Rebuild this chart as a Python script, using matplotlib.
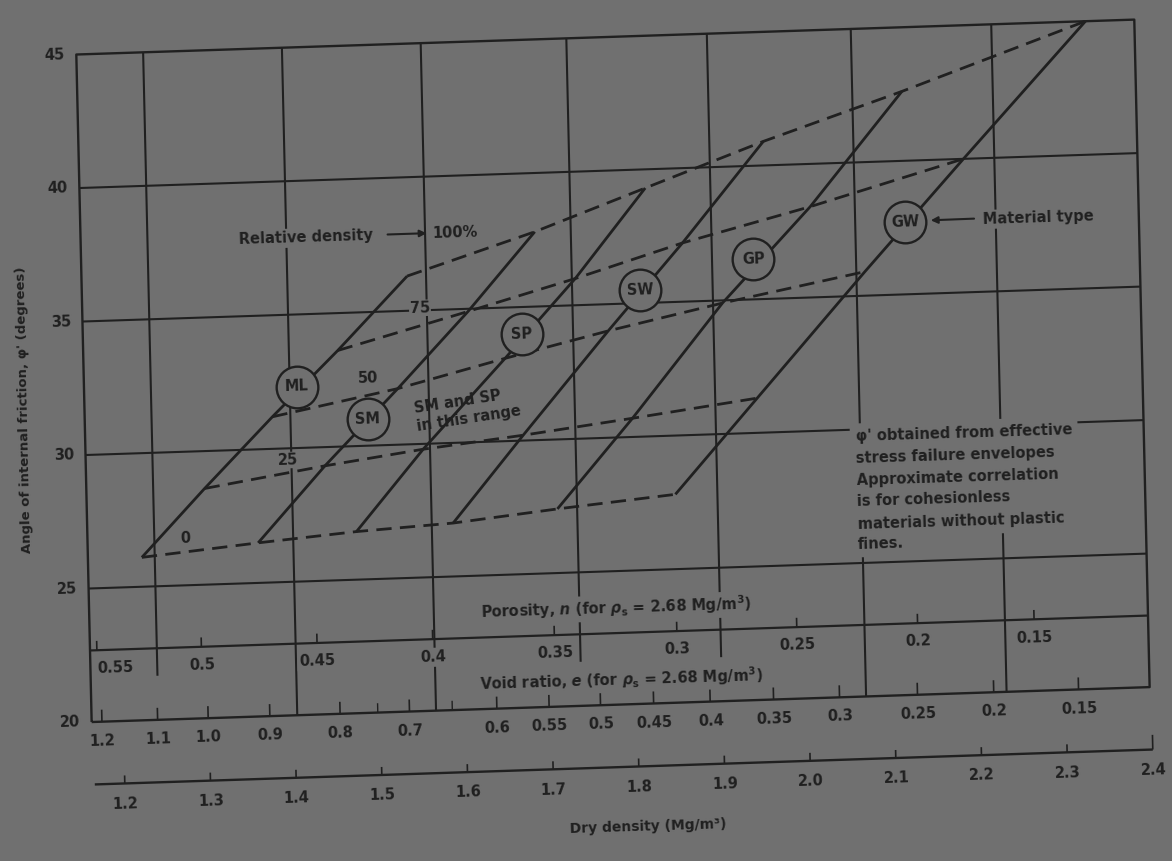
import numpy as np
import matplotlib.pyplot as plt
from matplotlib.transforms import Affine2D

plt.rcParams['font.family'] = ['DejaVu Sans']
plt.rcParams['mathtext.fontset'] = 'custom'
plt.rcParams['mathtext.rm'] = 'DejaVu Sans:bold'
plt.rcParams['mathtext.it'] = 'DejaVu Sans:italic:bold'
plt.rcParams['mathtext.bf'] = 'DejaVu Sans:bold'

# --- values (x = dry density Mg/m3, y = phi' degrees) ---
materials = ["ML", "SM", "SP", "SW", "GP", "GW"]
rel_density = ["0", "25", "50", "75", "100%"]

# where each material line crosses the 0/25/50/75/100 % relative density lines
rho_ML = [1.226, 1.301, 1.382, 1.460, 1.543]
phi_ML = [26.1, 28.6, 31.2, 33.6, 36.3]
rho_SM = [1.362, 1.442, 1.529, 1.613, 1.693]
phi_SM = [26.5, 29.3, 32.1, 34.9, 37.8]
rho_SP = [1.477, 1.557, 1.655, 1.739, 1.823]
phi_SP = [26.8, 29.8, 33.1, 36.0, 39.3]
rho_SW = [1.590, 1.674, 1.776, 1.865, 1.962]
phi_SW = [27.0, 30.2, 34.0, 37.2, 40.9]
rho_GP = [1.712, 1.802, 1.910, 2.015, 2.125]
phi_GP = [27.4, 30.7, 34.9, 38.4, 42.6]
rho_GW = [1.850, 1.948, 2.077, 2.195, 2.341]
phi_GW = [27.8, 31.3, 35.9, 40.0, 45.0]

mat_rho = [rho_ML, rho_SM, rho_SP, rho_SW, rho_GP, rho_GW]
mat_phi = [phi_ML, phi_SM, phi_SP, phi_SW, phi_GP, phi_GW]

phi_ticks = [20, 25, 30, 35, 40, 45]
density_ticks = [1.2, 1.3, 1.4, 1.5, 1.6, 1.7, 1.8, 1.9, 2.0, 2.1, 2.2, 2.3, 2.4]

porosity = [0.55, 0.5, 0.45, 0.4, 0.35, 0.3, 0.25, 0.2, 0.15]
porosity_rho = [1.171, 1.293, 1.428, 1.563, 1.705, 1.848, 1.988, 2.129, 2.265]

void_ratio = [1.2, 1.1, 1.0, 0.9, 0.8, 0.7, 0.6, 0.55, 0.5, 0.45, 0.4, 0.35, 0.3, 0.25, 0.2, 0.15]
void_rho = [1.175, 1.240, 1.299, 1.371, 1.453, 1.534, 1.636, 1.697, 1.757, 1.819,
            1.885, 1.959, 2.036, 2.127, 2.216, 2.315]
void_minor_rho = [1.497, 1.584]

grid_rho = [1.241, 1.403, 1.565, 1.735, 1.899, 2.067, 2.231]
grid_rho_short = [True, False, False, True, True, False, False]

BG = "#707070"
INK = "#202020"
TROT = 1.8

fig = plt.figure(figsize=(11.72, 8.61), dpi=100, facecolor=BG)
ax = fig.add_axes([0, 0, 1, 1])
ax.set_facecolor(BG)
ax.set_xlim(1.0634, 2.4315)
ax.set_ylim(14.176, 46.423)
ax.axis('off')

# the scan is slightly skewed: apply the same skew to everything
skew = Affine2D(np.array([[1.0, -0.023, 0.0], [0.033, 1.0, 0.0], [0.0, 0.0, 1.0]]))
T = ax.transData + Affine2D().translate(-586, -431) + skew + Affine2D().translate(586, 431)

X0, X1 = 1.163, 2.398
POR_Y = 22.68
DENS_Y = 17.66
lk = dict(color=INK, transform=T, solid_capstyle='butt')
fkw = dict(color=INK, fontweight='bold', transform=T)
boxbg = dict(facecolor=BG, edgecolor='none', pad=1.5)
FS = 10.5

# frame and grid
ax.plot([X0, X1, X1, X0, X0], [20, 20, 45, 45, 20], lw=1.7, **lk)
for p in phi_ticks[1:-1]:
    ax.plot([X0, X1], [p, p], lw=1.5, **lk)
ax.plot([X0, X1], [POR_Y, POR_Y], lw=1.6, **lk)
for gx, short in zip(grid_rho, grid_rho_short):
    ax.plot([gx, gx], [21.65 if short else 20, 45], lw=1.5, **lk)

# y tick labels
for p in phi_ticks:
    ax.text(1.150, p, str(p), ha='right', va='center', fontsize=FS, rotation=TROT, **fkw)
ax.text(1.093, 31.76, "Angle of internal friction, φ' (degrees)", ha='center', va='center',
        fontsize=9.5, rotation=91.3, **fkw)

# porosity scale
for r in porosity_rho:
    ax.plot([r, r], [POR_Y, POR_Y + 0.35], lw=1.2, **lk)
for i, (r, n) in enumerate(zip(porosity_rho, porosity)):
    if i == 0:
        ax.text(X0 + 0.007, 22.0, f"{n:g}", ha='left', va='center', fontsize=FS, rotation=TROT, **fkw)
    else:
        ax.text(r, 22.0, f"{n:g}", ha='center', va='center', fontsize=FS, rotation=TROT,
                bbox=boxbg, **fkw)
ax.text(1.778, 23.61, r"Porosity, $n$ (for $\rho_\mathrm{s}$ = 2.68 Mg/m$^3$)", ha='center',
        va='center', fontsize=FS, rotation=TROT, bbox=boxbg, **fkw)

# void ratio scale (on bottom border)
for r in void_rho:
    ax.plot([r, r], [20, 20.45], lw=1.2, **lk)
for r in void_minor_rho:
    ax.plot([r, r], [20, 20.35], lw=1.0, **lk)
for r, e in zip(void_rho, void_ratio):
    ax.text(r, 19.28, f"{e:.2g}" if e != 1.0 else "1.0", ha='center', va='center', fontsize=FS,
            rotation=TROT, **fkw)
ax.text(1.7825, 20.92, r"Void ratio, $e$ (for $\rho_\mathrm{s}$ = 2.68 Mg/m$^3$)", ha='center',
        va='center', fontsize=FS, rotation=TROT, **fkw)

# dry density scale
ax.plot([1.165, 2.400], [DENS_Y, DENS_Y], lw=1.7, **lk)
for r in density_ticks:
    top = DENS_Y + (0.55 if r == density_ticks[-1] else 0.3)
    ax.plot([r, r], [DENS_Y, top], lw=1.2, **lk)
    ax.text(r, 16.9, f"{r:.1f}", ha='center', va='center', fontsize=FS, rotation=TROT, **fkw)
ax.text(1.809, 15.41, "Dry density (Mg/m³)", ha='center', va='center', fontsize=10,
        rotation=TROT, **fkw)

# material lines (solid) and relative density lines (dashed)
for rr, pp in zip(mat_rho, mat_phi):
    ax.plot(rr, pp, lw=2.0, zorder=3, **lk)
for k in range(len(rel_density)):
    ax.plot([rr[k] for rr in mat_rho], [pp[k] for pp in mat_phi], lw=2.0,
            ls=(0, (5.5, 3.0)), zorder=3, color=INK, transform=T)

# material circles
mat_lab_rho = [1.411, 1.493, 1.675, 1.814, 1.947, 2.125]
mat_lab_phi = [32.3, 31.0, 34.0, 35.5, 36.5, 37.7]
for m, r, p in zip(materials, mat_lab_rho, mat_lab_phi):
    ax.plot([r], [p], 'o', ms=30, mfc=BG, mec=INK, mew=1.7, zorder=5, transform=T)
    ax.text(r, p, m, ha='center', va='center', fontsize=10.5, rotation=TROT, zorder=6, **fkw)

# relative density labels
rd_rho = [1.2765, 1.3988, 1.4944, 1.5570]
rd_phi = [26.77, 29.56, 32.54, 35.09]
for lab, r, p in zip(rel_density[:4], rd_rho, rd_phi):
    ax.text(r, p, lab, ha='center', va='center', fontsize=FS, rotation=TROT, zorder=4,
            bbox=dict(facecolor=BG, edgecolor='none', pad=0.5), **fkw)
ax.text(1.5728, 37.88, rel_density[4], ha='left', va='center', fontsize=FS, rotation=TROT,
        zorder=4, bbox=dict(facecolor=BG, edgecolor='none', pad=0.5), **fkw)
ax.text(1.4258, 37.86, "Relative density", ha='center', va='center', fontsize=FS,
        rotation=TROT, zorder=4, bbox=boxbg, **fkw)
ax.annotate('', xy=(1.570, 37.88), xytext=(1.518, 37.88), xycoords=T, textcoords=T,
            arrowprops=dict(arrowstyle='-|>', color=INK, lw=1.5, mutation_scale=10), zorder=4)

ax.text(1.6103, 31.22, "SM and SP\nin this range", ha='center', va='center', fontsize=FS,
        rotation=8.7, multialignment='left', linespacing=1.3, zorder=4, **fkw)

ax.text(2.2153, 37.77, "Material type", ha='left', va='center', fontsize=FS,
        rotation=TROT, zorder=4, bbox=boxbg, **fkw)
ax.annotate('', xy=(2.152, 37.74), xytext=(2.209, 37.75), xycoords=T, textcoords=T,
            arrowprops=dict(arrowstyle='-|>', color=INK, lw=1.5, mutation_scale=10), zorder=4)

note = ["φ' obtained from effective", "stress failure envelopes", "Approximate correlation",
        "is for cohesionless", "materials without plastic", "fines."]
for i, line in enumerate(note):
    ax.text(2.0614, 29.87 - 0.828 * i, line, ha='left', va='center', fontsize=FS,
            rotation=TROT, zorder=4, bbox=dict(facecolor=BG, edgecolor='none', pad=4), **fkw)

fig.savefig("out.png", dpi=100, facecolor=BG)
